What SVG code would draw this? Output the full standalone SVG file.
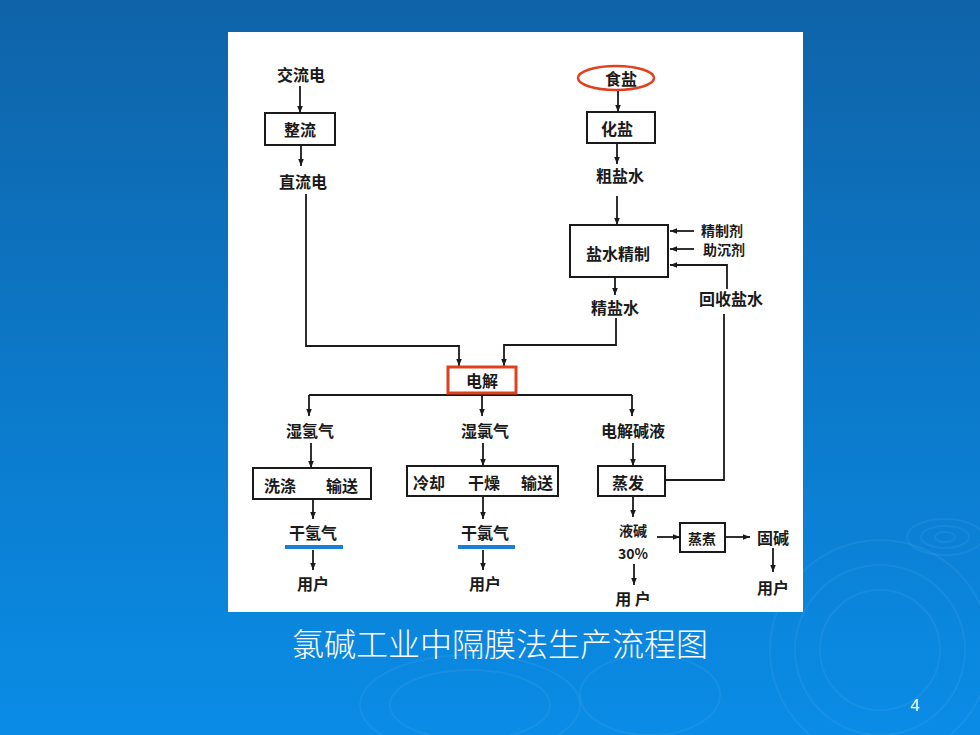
<svg xmlns="http://www.w3.org/2000/svg" width="980" height="735" viewBox="0 0 980 735">
<defs>
<linearGradient id="bg" x1="0" y1="0" x2="0" y2="1">
<stop offset="0" stop-color="#0f63a8"/>
<stop offset="0.5" stop-color="#0c78c8"/>
<stop offset="1" stop-color="#0a8ce6"/>
</linearGradient>
<marker id="ah" viewBox="0 0 10 10" refX="10" refY="5" markerWidth="7" markerHeight="7" orient="auto" markerUnits="userSpaceOnUse">
<path d="M0,1 L10,5 L0,9 Z" fill="#1a1a1a"/>
</marker>
<style>
.t{font-family:"Noto Sans CJK SC","Noto Sans",sans-serif;font-size:16px;font-weight:700;fill:#1a1a1a;text-anchor:middle;dominant-baseline:central}
.s{font-family:"Noto Sans CJK SC","Noto Sans",sans-serif;font-size:14px;font-weight:700;fill:#1a1a1a;text-anchor:middle;dominant-baseline:central}
.box{fill:none;stroke:#1a1a1a;stroke-width:2}
.c{fill:none;stroke:#1a1a1a;stroke-width:1.8}
.a{marker-end:url(#ah)}
.rip{fill:none;stroke:#7cc0f2;stroke-opacity:0.12;stroke-width:2}
.ul{fill:#1a7fd4}
</style>
</defs>
<rect x="0" y="0" width="980" height="735" fill="url(#bg)"/>
<g id="ripples">
<ellipse class="rip" cx="945" cy="537" rx="38" ry="18"/>
<ellipse class="rip" cx="945" cy="537" rx="24" ry="11"/>
<ellipse class="rip" cx="945" cy="537" rx="10" ry="5"/>
<circle class="rip" cx="880" cy="650" r="110"/>
<circle class="rip" cx="880" cy="650" r="85"/>
<circle class="rip" cx="880" cy="650" r="60"/>
<ellipse class="rip" cx="470" cy="705" rx="110" ry="50"/>
<ellipse class="rip" cx="470" cy="705" rx="80" ry="35"/>
<ellipse class="rip" cx="650" cy="695" rx="70" ry="40"/>
</g>
<rect id="panel" x="228" y="32" width="575" height="580" fill="#ffffff"/>
<g id="connectors">
<line class="c a" x1="300" y1="86" x2="300" y2="113"/>
<line class="c a" x1="301" y1="145" x2="301" y2="166"/>
<path class="c a" d="M306,194 V346 H459 V366"/>
<line class="c a" x1="618" y1="90" x2="618" y2="112"/>
<line class="c a" x1="617" y1="143" x2="617" y2="164"/>
<line class="c a" x1="617" y1="196" x2="617" y2="225"/>
<line class="c a" x1="694" y1="231" x2="670" y2="231"/>
<line class="c a" x1="694" y1="249" x2="670" y2="249"/>
<path class="c a" d="M727,289 V265 H670"/>
<line class="c a" x1="615" y1="277" x2="615" y2="295"/>
<path class="c a" d="M616,318 V345 H504 V366"/>
<path class="c" d="M309,395 H632"/>
<line class="c a" x1="309" y1="395" x2="309" y2="416"/>
<line class="c a" x1="482" y1="393" x2="482" y2="416"/>
<line class="c a" x1="632" y1="395" x2="632" y2="416"/>
<line class="c a" x1="311" y1="443" x2="311" y2="468"/>
<line class="c a" x1="483" y1="443" x2="483" y2="466"/>
<line class="c a" x1="633" y1="443" x2="633" y2="466"/>
<line class="c a" x1="313" y1="499" x2="313" y2="519"/>
<line class="c a" x1="483" y1="496" x2="483" y2="519"/>
<line class="c a" x1="633" y1="496" x2="633" y2="517"/>
<line class="c a" x1="313" y1="550" x2="313" y2="570"/>
<line class="c a" x1="483" y1="550" x2="483" y2="570"/>
<line class="c a" x1="634" y1="564" x2="634" y2="585"/>
<line class="c a" x1="657" y1="537" x2="680" y2="537"/>
<line class="c a" x1="725" y1="537" x2="750" y2="537"/>
<line class="c a" x1="773" y1="548" x2="773" y2="572"/>
<path class="c" d="M665,480 H724 V314"/>
</g>
<g id="n-jiaoliudian"><text class="t" x="301" y="74">交流电</text></g>
<g id="n-zhengliu"><rect class="box" x="265" y="113" width="70" height="32"/><text class="t" x="300" y="129">整流</text></g>
<g id="n-zhiliudian"><text class="t" x="303" y="181">直流电</text></g>
<g id="n-shiyan"><ellipse cx="616" cy="78" rx="38" ry="12" fill="none" stroke="#e0401c" stroke-width="2.5"/><text class="t" x="621" y="78">食盐</text></g>
<g id="n-huayan"><rect class="box" x="587" y="112" width="68" height="31"/><text class="t" x="617" y="128">化盐</text></g>
<g id="n-cuyanshui"><text class="t" x="620" y="175">粗盐水</text></g>
<g id="n-yanshuijingzhi"><rect class="box" x="570" y="225" width="98" height="52"/><text class="t" x="618" y="253">盐水精制</text></g>
<g id="n-jingzhiji"><text class="s" x="722" y="230">精制剂</text></g>
<g id="n-zhuchenji"><text class="s" x="724" y="249">助沉剂</text></g>
<g id="n-huishouyanshui"><text class="t" x="731" y="298">回收盐水</text></g>
<g id="n-jingyanshui"><text class="t" x="615" y="307">精盐水</text></g>
<g id="n-dianjie"><rect x="448" y="367" width="68" height="26" fill="none" stroke="#e0401c" stroke-width="3"/><text class="t" x="482" y="380">电解</text></g>
<g id="n-shiqingqi"><text class="t" x="310" y="430">湿氢气</text></g>
<g id="n-shilvqi"><text class="t" x="485" y="430">湿氯气</text></g>
<g id="n-dianjiejianye"><text class="t" x="633" y="430">电解碱液</text></g>
<g id="n-xidishusong"><rect class="box" x="253" y="468" width="118" height="31"/><text class="t" x="280" y="485">洗涤</text><text class="t" x="342" y="485">输送</text></g>
<g id="n-lengque"><rect class="box" x="407" y="466" width="151" height="30"/><text class="t" x="429" y="482">冷却</text><text class="t" x="484" y="482">干燥</text><text class="t" x="537" y="482">输送</text></g>
<g id="n-zhengfa"><rect class="box" x="598" y="466" width="67" height="30"/><text class="t" x="628" y="482">蒸发</text></g>
<g id="n-ganqingqi"><text class="t" x="313" y="532">干氢气</text><rect class="ul" x="285" y="545" width="58" height="4"/></g>
<g id="n-ganlvqi"><text class="t" x="485" y="532">干氯气</text><rect class="ul" x="458" y="545" width="57" height="4"/></g>
<g id="n-yejian"><text class="s" x="633" y="530">液碱</text><text class="s" x="633" y="553">30%</text></g>
<g id="n-zhengzhu"><rect class="box" x="680" y="523" width="45" height="29"/><text class="s" x="702" y="538">蒸煮</text></g>
<g id="n-gujian"><text class="t" x="773" y="537">固碱</text></g>
<g id="n-yonghu1"><text class="t" x="313" y="583">用户</text></g>
<g id="n-yonghu2"><text class="t" x="485" y="583">用户</text></g>
<g id="n-yonghu3"><text class="t" x="633" y="598">用 户</text></g>
<g id="n-yonghu4"><text class="t" x="773" y="587">用户</text></g>
<text x="500" y="642" font-family="Noto Sans CJK SC, sans-serif" font-size="32" font-weight="300" fill="#ffffff" text-anchor="middle" dominant-baseline="central">氯碱工业中隔膜法生产流程图</text>
<text x="915" y="705" font-family="Liberation Sans, Arial, sans-serif" font-size="17" fill="#ffffff" text-anchor="middle" dominant-baseline="central">4</text>
</svg>
